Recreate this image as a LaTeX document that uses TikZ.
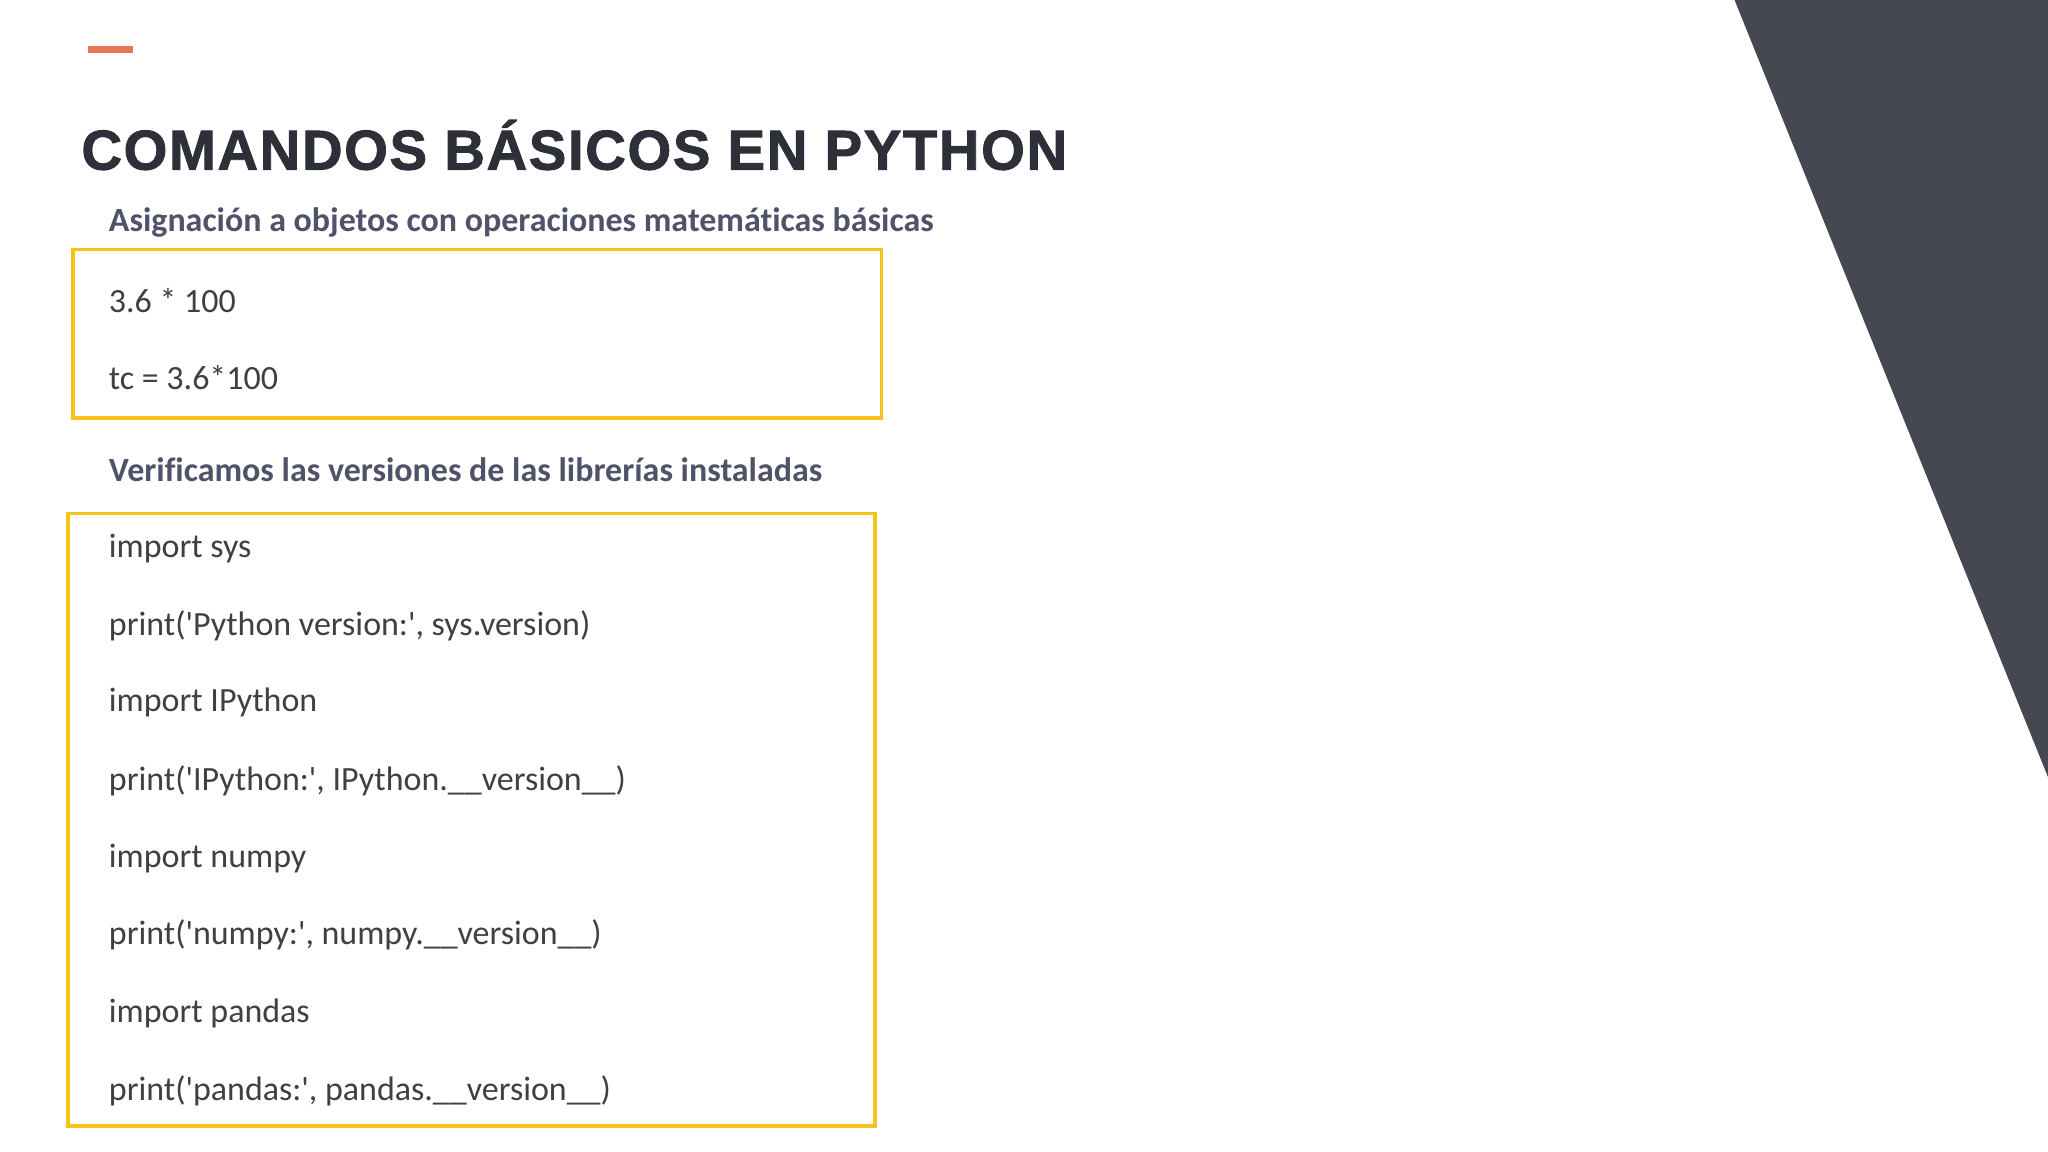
\documentclass[tikz,border=0pt]{standalone}
\usepackage{fontspec}
\newfontfamily\codefont{Carlito}[Ligatures=NoCommon]
\newfontfamily\titlefont{Liberation Sans}[FakeBold=1.6,LetterSpace=3]
\definecolor{darktri}{HTML}{454751}
\definecolor{accent}{HTML}{E8755A}
\definecolor{boxy}{HTML}{F6C21C}
\definecolor{codec}{HTML}{404040}
\definecolor{headc}{HTML}{50526A}
\definecolor{titlec}{HTML}{2E3039}
\tikzset{
  code/.style={anchor=west,text=codec,font=\codefont\fontsize{13}{15}\selectfont,inner sep=0pt},
  head/.style={anchor=west,text=headc,font=\codefont\fontsize{13}{15}\selectfont\bfseries,inner sep=0pt},
  ybox/.style={draw=boxy,line width=1.3pt}
}
\begin{document}
\begin{tikzpicture}[x=0.5pt,y=-0.5pt]
\fill[white] (0,0) rectangle (1568,882);
\useasboundingbox (0,0) rectangle (1568,882);
\fill[darktri] (1328,0) -- (1568,0) -- (1568,595) -- cycle;
\draw[accent,line width=2.5pt] (67,38) -- (102,38);
\node[anchor=west,text=titlec,inner sep=0pt,font=\titlefont\fontsize{21.5}{23}\selectfont\bfseries] (title) at (62,111) {COMANDOS BÁSICOS EN PYTHON};
\node[head] (h1) at (83,170) {Asignación a objetos con operaciones matemáticas básicas};
\draw[ybox] (56,191) rectangle (675,320);
\node[code] (a1) at (83,230) {3.6 * 100};
\node[code] (a2) at (83,289) {tc = 3.6*100};
\node[head] (h2) at (83,360) {Verificamos las versiones de las librerías instaladas};
\draw[ybox] (52,393) rectangle (670,862);
\node[code] (b1) at (83,420) {import sys};
\node[code] (b2) at (83,479) {print('Python version:', sys.version)};
\node[code] (b3) at (83,538) {import IPython};
\node[code] (b4) at (83,598) {print('IPython:', IPython.\_\_version\_\_)};
\node[code] (b5) at (83,657) {import numpy};
\node[code] (b6) at (83,716) {print('numpy:', numpy.\_\_version\_\_)};
\node[code] (b7) at (83,776) {import pandas};
\node[code] (b8) at (83,835) {print('pandas:', pandas.\_\_version\_\_)};
\end{tikzpicture}
\end{document}
